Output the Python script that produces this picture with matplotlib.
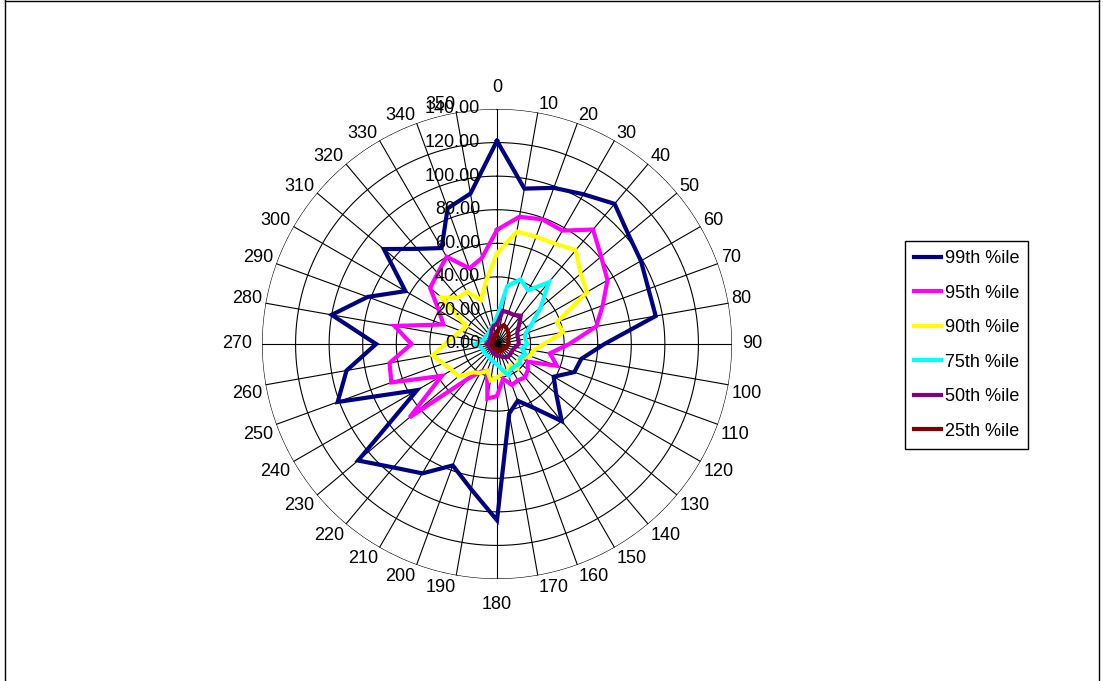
import numpy as np
import matplotlib
matplotlib.use("Agg")
import matplotlib.pyplot as plt
from matplotlib.lines import Line2D
from matplotlib import transforms

plt.rcParams['font.family'] = ['Liberation Sans', 'DejaVu Sans']

directions = list(range(0, 360, 10))
tick_values = [0, 20, 40, 60, 80, 100, 120, 140]

p99 = [121, 94, 99, 103, 109, 102, 99, 96, 96, 64, 51, 49, 39, 46, 60, 44, 36, 42,
       105, 88, 77, 89, 96, 108, 55, 101, 91, 72, 100, 82, 63, 88, 74, 66, 86, 91]
p95 = [68, 77, 79, 78, 89, 81, 76, 67, 60, 43, 32, 38, 21, 24, 26, 25, 26, 21,
       31, 33, 17, 19, 27, 68, 38, 67, 65, 51, 62, 34, 40, 52, 55, 60, 48, 52]
p90 = [54, 68, 68, 69, 73, 65, 62, 38, 40, 28, 22, 21, 17, 16, 19, 15, 18, 18,
       20, 22, 17, 20, 22, 30, 31, 34, 39, 31, 26, 23, 21, 43, 36, 36, 28, 38]
p75 = [16, 35, 41, 37, 48, 34, 24, 18, 17, 18, 15, 18, 16, 18, 17, 17, 20, 15,
       12, 11, 10, 9, 9, 9, 9, 9, 10, 13, 10, 8, 8, 8, 8, 9, 10, 12]
p50 = [12, 20, 20, 20, 22, 17, 14, 13, 13, 13, 11, 10, 10, 10, 10, 9, 8, 7,
       7, 6, 6, 5, 5, 5, 5, 5, 5, 6, 5, 5, 5, 5, 6, 7, 9, 11]
p25 = [7, 10, 12, 11, 10, 9, 8, 7, 7, 7, 6, 6, 5, 5, 5, 5, 4, 4,
       4, 3, 3, 3, 3, 3, 3, 3, 3, 3, 3, 3, 3, 3, 3, 4, 4, 5]

series_names = ["99th %ile", "95th %ile", "90th %ile", "75th %ile", "50th %ile", "25th %ile"]
series_values = [p99, p95, p90, p75, p50, p25]
series_colors = ["#000080", "#FF00FF", "#FFFF00", "#00FFFF", "#800080", "#800000"]

W, H = 1103, 681
fig = plt.figure(figsize=(W / 100, H / 100), dpi=100)
cx, cy, R = 497, 344, 235
ax = fig.add_axes([(cx - R) / W, (H - cy - R) / H, 2 * R / W, 2 * R / H], projection='polar')
ax.set_theta_zero_location('N')
ax.set_theta_direction(-1)
rmax = tick_values[-1]
ax.set_ylim(0, rmax)
ax.axis('off')

th_full = np.linspace(0, 2 * np.pi, 721)
for r in tick_values[1:]:
    ax.plot(th_full, np.full_like(th_full, r), color='black', lw=0.8, zorder=1)
for d in directions:
    t = np.deg2rad(d)
    ax.plot([t, t], [0, rmax], color='black', lw=0.8, zorder=1)

theta = np.deg2rad(directions + [directions[0]])
for name, vals, col in zip(series_names, series_values, series_colors):
    ax.plot(theta, vals + [vals[0]], color=col, lw=3.0, label=name, zorder=3,
            solid_joinstyle='miter')

fs = 13
# radial tick labels
off = transforms.offset_copy(ax.transData, fig=fig, x=-17, y=0, units='dots')
for r in tick_values:
    ax.text(0, r, f"{r:.2f}", transform=off, ha='right', va='center', fontsize=fs,
            color='black', zorder=5, clip_on=False)

# angle labels
for d in directions:
    t = np.deg2rad(d)
    s, c = np.sin(t), np.cos(t)
    if abs(s) < 0.01:
        ha = 'center'
        rr = 150
        va = 'baseline' if c > 0 else 'top'
    elif abs(c) < 0.01:
        va = 'center'
        ha = 'left' if s > 0 else 'right'
        rr = 146
    else:
        ha = 'left' if s > 0 else 'right'
        va = 'baseline' if c > 0 else 'top'
        rr = 142
    ax.text(t, rr, str(d), ha=ha, va=va, fontsize=fs, clip_on=False)

leg = fig.legend(loc='upper left', bbox_to_anchor=(905 / W, 1 - 241 / H), borderaxespad=0,
                 fontsize=fs, frameon=True, fancybox=False, edgecolor='black', framealpha=1,
                 handlelength=1.5, handletextpad=0.2, labelspacing=0.97, borderpad=0.5)
leg.get_frame().set_linewidth(1.0)

# outer chart border
for (x0, y0, x1, y1) in [(5, 0, 5, H), (5, 0.5, 1099, 0.5), (1099, 0, 1099, H)]:
    fig.add_artist(Line2D([x0 / W, x1 / W], [1 - y0 / H, 1 - y1 / H], color='black', lw=1.0))

fig.savefig("out.png", dpi=100)
